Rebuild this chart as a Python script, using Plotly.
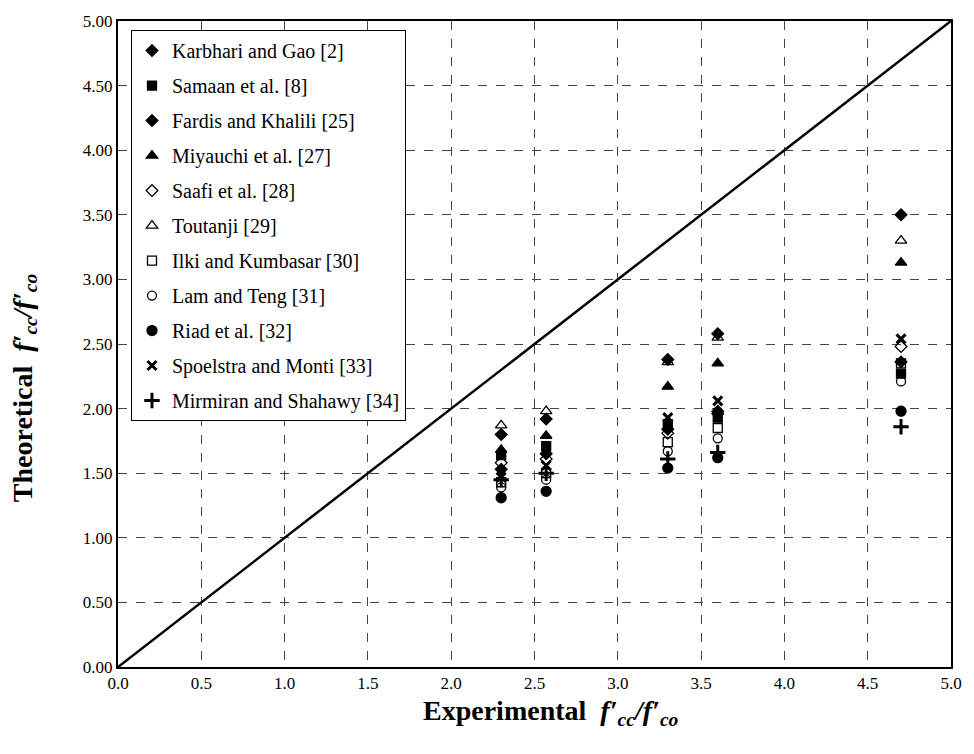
import plotly.graph_objects as go

x_exp = [2.30, 2.57, 3.30, 3.60, 4.70]

karbhari = [1.80, 1.92, 2.38, 2.58, 3.50]
samaan = [1.64, 1.71, 1.88, 1.93, 2.27]
fardis = [1.53, 1.65, 1.84, 1.98, 2.36]
miyauchi = [1.68, 1.79, 2.17, 2.35, 3.13]
saafi = [1.58, 1.61, 1.81, 1.96, 2.48]
toutanji = [1.87, 1.98, 2.36, 2.55, 3.30]
ilki = [1.43, 1.50, 1.74, 1.85, 2.35]
lam = [1.39, 1.45, 1.67, 1.77, 2.21]
riad = [1.31, 1.36, 1.54, 1.62, 1.98]
spoelstra = [1.47, 1.56, 1.93, 2.06, 2.54]
mirmiran = [1.45, 1.50, 1.61, 1.66, 1.86]

series = [
    ("Karbhari and Gao [2]", karbhari, "diamond", 9),
    ("Samaan et al. [8]", samaan, "square", 9),
    ("Fardis and Khalili [25]", fardis, "diamond", 9),
    ("Miyauchi et al. [27]", miyauchi, "triangle-up", 10),
    ("Saafi et al. [28]", saafi, "diamond-open", 9),
    ("Toutanji [29]", toutanji, "triangle-up-open", 10),
    ("Ilki and Kumbasar [30]", ilki, "square-open", 9),
    ("Lam and Teng [31]", lam, "circle-open", 9),
    ("Riad et al. [32]", riad, "circle", 10),
    ("Spoelstra and Monti [33]", spoelstra, "x-thin-open", 9),
    ("Mirmiran and Shahawy [34]", mirmiran, "cross-thin-open", 11),
]

diag = [0.0, 5.0]

fig = go.Figure()
fig.add_trace(go.Scatter(x=diag, y=diag, mode="lines",
                         line=dict(color="black", width=2.5),
                         showlegend=False, hoverinfo="skip"))

for i, (name, vals, sym, size) in enumerate(series):
    lw = 3 if "thin" in sym else 1.3
    fig.add_trace(go.Scatter(
        x=x_exp, y=vals, mode="markers", name=name, legendgroup=f"g{i}",
        marker=dict(symbol=sym, size=size, color="black",
                    line=dict(color="black", width=lw)),
    ))

font_family = "Times New Roman, Liberation Serif, serif"
title_txt_x = "<b>Experimental</b>\u00a0 <b><i>f′<sub>cc</sub>/f′<sub>co</sub></i></b>"
title_txt_y = "<b>Theoretical</b>\u00a0 <b><i>f′<sub>cc</sub>/f′<sub>co</sub></i></b>"

fig.update_layout(
    width=974, height=754,
    margin=dict(l=118, r=22, t=18, b=87),
    paper_bgcolor="white", plot_bgcolor="white",
    font=dict(family=font_family, size=17, color="black"),
    legend=dict(x=0.0156, y=0.986, xanchor="left", yanchor="top",
                bgcolor="white", bordercolor="black", borderwidth=1,
                font=dict(family=font_family, size=20, color="black"),
                tracegroupgap=6, itemwidth=30),
    xaxis=dict(range=[0, 5], dtick=0.5, tick0=0, tickformat=".1f",
               showgrid=True, gridcolor="#444", griddash="dash", gridwidth=1,
               showline=True, linecolor="black", linewidth=2, mirror=True,
               zeroline=False, ticks="",
               tickfont=dict(family=font_family, size=17)),
    yaxis=dict(range=[0, 5], dtick=0.5, tick0=0, tickformat=".2f",
               showgrid=True, gridcolor="#444", griddash="dash", gridwidth=1,
               showline=True, linecolor="black", linewidth=2, mirror=True,
               zeroline=False, ticks="",
               tickfont=dict(family=font_family, size=17)),
    annotations=[
        dict(text=title_txt_x, xref="paper", yref="paper",
             x=0.52, y=-0.071, xanchor="center", yanchor="middle",
             showarrow=False, font=dict(family=font_family, size=28)),
        dict(text=title_txt_y, xref="paper", yref="paper",
             x=-0.113, y=0.433, xanchor="center", yanchor="middle",
             textangle=-90,
             showarrow=False, font=dict(family=font_family, size=28)),
    ],
)

fig.write_html("out.html")
